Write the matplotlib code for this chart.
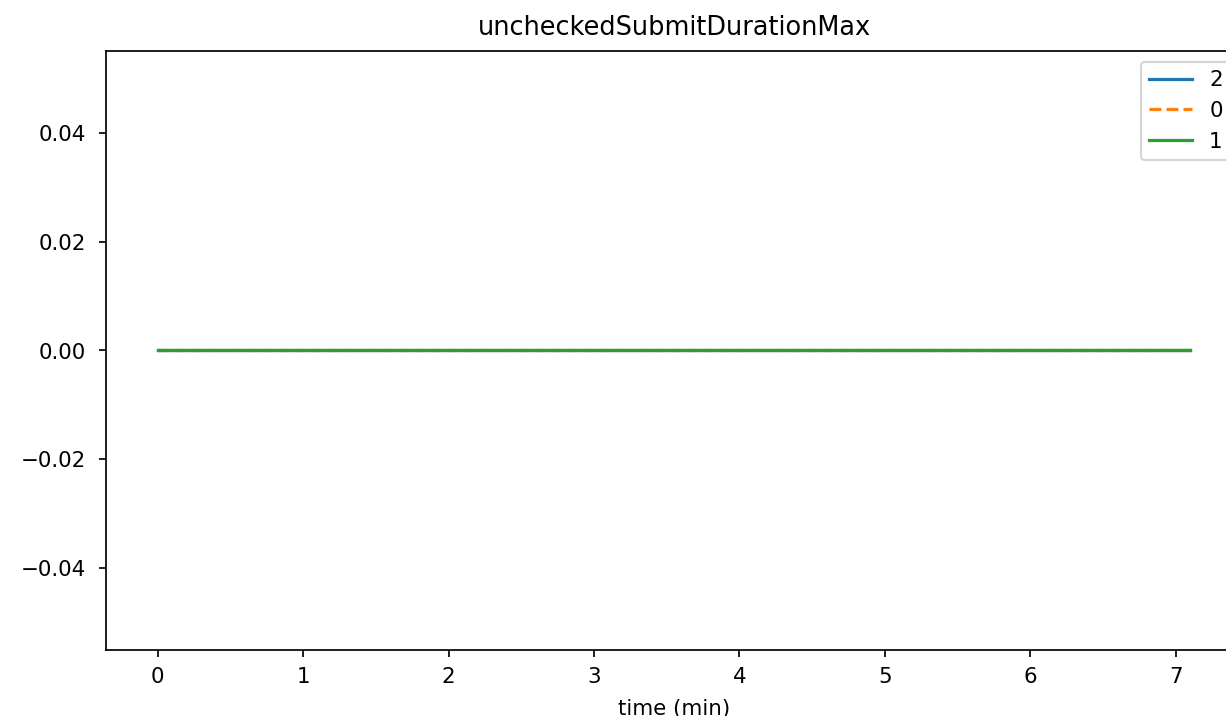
import matplotlib
matplotlib.use("Agg")
import matplotlib.pyplot as plt

# time axis (minutes) and per-node values
time_min = [0.0, 0.5, 1.0, 1.5, 2.0, 2.5, 3.0, 3.5, 4.0, 4.5, 5.0, 5.5, 6.0, 6.5, 7.0, 7.1]
node_2 = [0.0, 0.0, 0.0, 0.0, 0.0, 0.0, 0.0, 0.0, 0.0, 0.0, 0.0, 0.0, 0.0, 0.0, 0.0, 0.0]
node_0 = [0.0, 0.0, 0.0, 0.0, 0.0, 0.0, 0.0, 0.0, 0.0, 0.0, 0.0, 0.0, 0.0, 0.0, 0.0, 0.0]
node_1 = [0.0, 0.0, 0.0, 0.0, 0.0, 0.0, 0.0, 0.0, 0.0, 0.0, 0.0, 0.0, 0.0, 0.0, 0.0, 0.0]

W, H, DPI = 1226, 716, 154
fig = plt.figure(figsize=(W / DPI, H / DPI), dpi=DPI)
# the reference is a crop: the axes run past the right edge
left, right, top, bottom = 106, 1242, 51, 650
ax = fig.add_axes([left / W, (H - bottom) / H, (right - left) / W, (bottom - top) / H])

ax.plot(time_min, node_2, label='2', color='C0')
ax.plot(time_min, node_0, label='0', color='C1', linestyle='--')
ax.plot(time_min, node_1, label='1', color='C2')

ax.tick_params(axis='y', pad=5.8)
ax.tick_params(axis='x', pad=4.3)
ax.set_title('uncheckedSubmitDurationMax', pad=7.4)
ax.set_xlabel('time (min)', labelpad=5.6)
ax.legend(loc='upper right')

fig.savefig('out.png', dpi=DPI)
